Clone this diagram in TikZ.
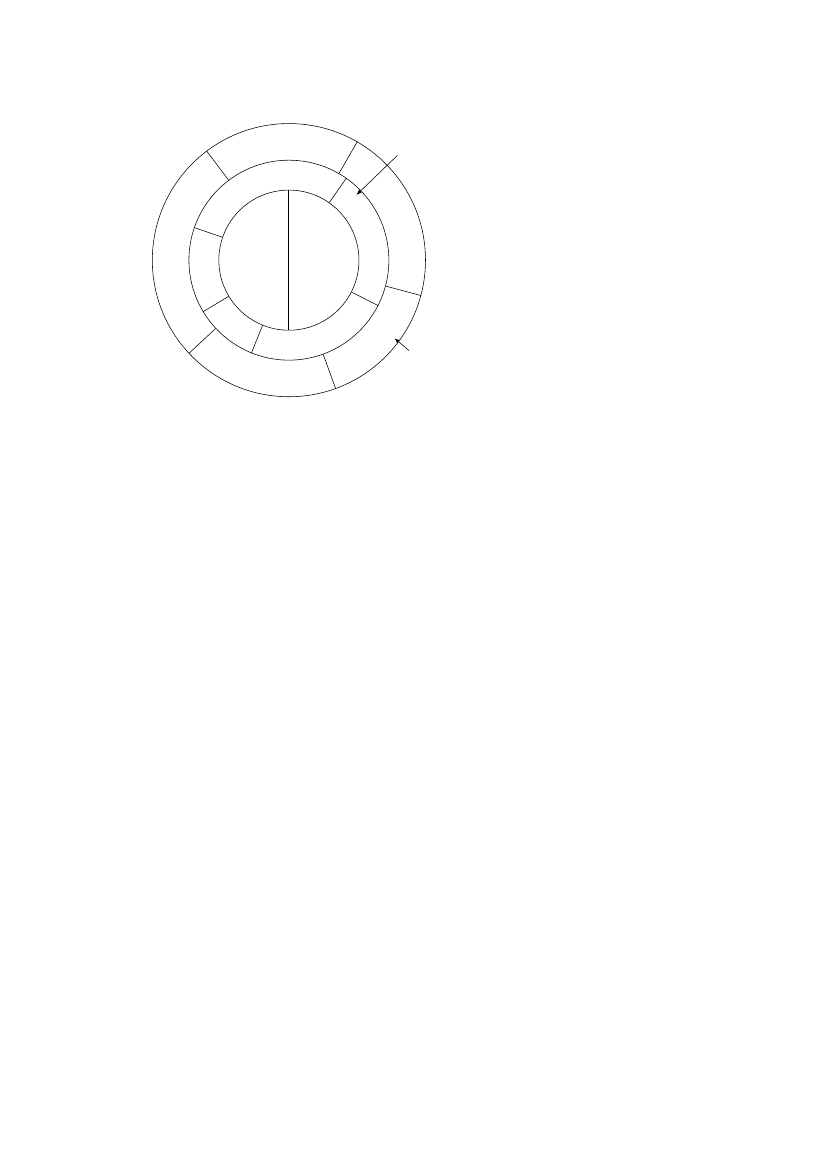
\documentclass[tikz,border=0pt]{standalone}
\usepackage{tikz}
\usetikzlibrary{arrows.meta}

\begin{document}
\begin{tikzpicture}
  [every node/.style={circle,draw,inner sep=0pt}]
  \useasboundingbox (0,0) rectangle (21,29.7);
  \node[minimum size=6.94cm] (out) at (7.34,23.09) {};
  \node[minimum size=5.08cm] (mid) at (7.34,23.09) {};
  \node[minimum size=3.56cm] (in) at (7.34,23.09) {};

\coordinate (t1) at ([shift={(44:3.83)}]out.center);
\coordinate (h1) at ([shift={(44:2.39)}]out.center);
\coordinate (t2) at ([shift={(323:3.82)}]out.center);
\coordinate (h2) at ([shift={(323.5:3.34)}]out.center);

  \foreach \a in {127,60,345,290,223}
    \draw (mid.\a) -- (out.\a);
  \foreach \a in {55,161,333,211,248}
    \draw (in.\a) -- (mid.\a);

  \draw[semithick] (in.90) -- (in.270);
  \foreach \from/\to in {t1/h1,t2/h2}
    \draw[-{Latex[length=1.3mm,width=1mm]}] (\from) -- (\to);

\end{tikzpicture}
\end{document}
